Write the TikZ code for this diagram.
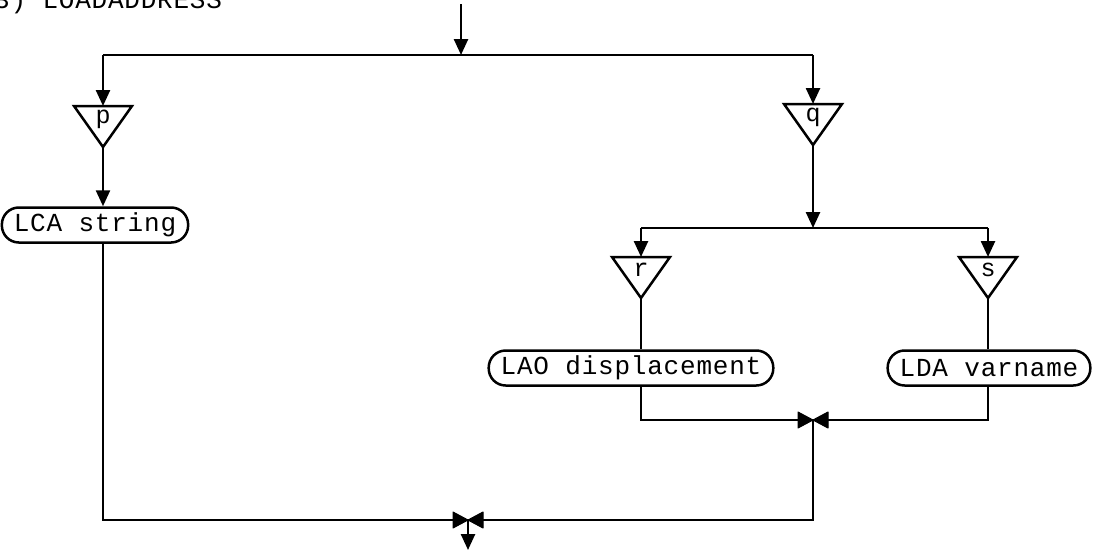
\documentclass[tikz,border=0pt]{standalone}
\usepackage{fontspec}
\setmonofont[LetterSpace=3]{Liberation Mono}
\usetikzlibrary{arrows.meta}
\tikzset{
  flow/.style={line width=2.5pt},
  arr/.style={flow,-{Triangle[width=14pt,length=16pt]}},
  box/.style={draw,line width=2.5pt,rounded corners=17pt,minimum height=35pt,inner xsep=12pt,font=\ttfamily\fontsize{26}{26}\selectfont},
  lbl/.style={font=\ttfamily\fontsize{25}{25}\selectfont,inner sep=0pt},
  tri/.style={line width=2.5pt,line join=miter},
  tip/.style={fill=black,draw=black,line width=1pt,line join=round}
}
\newcommand{\mytri}[4]{% name, x, ytop, label
  \coordinate (#1-top) at (#2,#3);
  \coordinate (#1-apex) at (#2,#3+41);
  \draw[tri] (#2-29,#3) -- (#2+29,#3) -- (#1-apex) -- cycle;
  \node[lbl] (#1) at (#2,#3+13) {#4};
}
\newcommand{\mybowtie}[2]{% x, y
  \filldraw[tip] (#1-15,#2-8) -- (#1,#2) -- (#1-15,#2+8) -- cycle;
  \filldraw[tip] (#1+15,#2-8) -- (#1,#2) -- (#1+15,#2+8) -- cycle;
}
\begin{document}
\begin{tikzpicture}[x=1pt,y=-1pt]
\useasboundingbox (0,0) rectangle (1094,552);
\clip (0,0) rectangle (1094,552);
% title
\node[anchor=base west,inner sep=0pt,font=\ttfamily\fontsize{26}{26}\selectfont] (title) at (-6,8) {3) LOADADDRESS};
% coordinates
\coordinate (in) at (461,4);
\coordinate (split1) at (461,55);
\coordinate (sL) at (103,55);
\coordinate (sR) at (813,55);
\mytri{p}{103}{106}{p}
\mytri{q}{813}{104}{q}
\node[box] (lca) at (95,225) {LCA string};
\coordinate (split2) at (813,228);
\coordinate (sr) at (641,228);
\coordinate (ss) at (988,228);
\mytri{r}{641}{257}{r}
\mytri{s}{988}{257}{s}
\node[box] (lao) at (631,368) {LAO displacement};
\node[box] (lda) at (989,368) {LDA varname};
\coordinate (j2) at (813,420);
\coordinate (j1) at (468,520);
\coordinate (out) at (468,550);
% connectors
\draw[arr] (in) -- (split1);
\draw[flow] (sL) -- (sR);
\draw[arr] (sL) -- (p-top);
\draw[arr] (sR) -- (q-top);
\draw[arr] (p-apex) -- (lca.north -| p-apex);
\draw[arr] (q-apex) -- (split2);
\draw[flow] (sr) -- (ss);
\draw[arr] (sr) -- (r-top);
\draw[arr] (ss) -- (s-top);
\draw[flow] (r-apex) -- (lao.north -| r-apex);
\draw[flow] (s-apex) -- (lda.north -| s-apex);
\draw[flow] (lao.south -| r-apex) |- (j2);
\draw[flow] (lda.south -| s-apex) |- (j2);
\draw[flow] (lca.south -| p-apex) |- (j1);
\draw[flow] (j2) |- (j1);
\draw[arr] (j1) -- (out);
\mybowtie{813}{420}
\mybowtie{468}{520}
\end{tikzpicture}
\end{document}
